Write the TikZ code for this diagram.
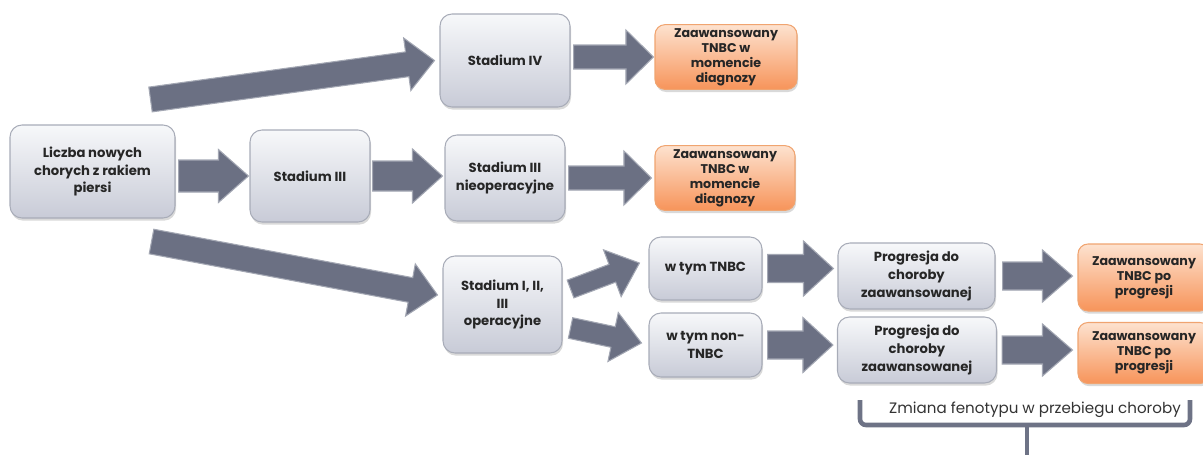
\documentclass[tikz,border=0pt]{standalone}
\usepackage{fontspec}
\setmainfont{Poppins}
\usetikzlibrary{calc,shadows}
\definecolor{arrowgray}{HTML}{6B7083}
\definecolor{arrowedge}{HTML}{A3A7B3}
\definecolor{boxtop}{HTML}{F7F8FA}
\definecolor{boxbottom}{HTML}{C8CBD7}
\definecolor{boxedge}{HTML}{A8ACB8}
\definecolor{orangetop}{HTML}{FDE2CF}
\definecolor{orangebottom}{HTML}{F7945A}
\definecolor{orangeedge}{HTML}{F0A470}
\definecolor{bracegray}{HTML}{6E7386}
\tikzset{
	box/.style={draw=boxedge, line width=0.6pt, rounded corners=0.24cm, top color=boxtop, bottom color=boxbottom, align=center, font=\fontsize{7.5}{10}\selectfont\bfseries, text=black!85, inner sep=2pt, drop shadow={shadow xshift=0.6pt, shadow yshift=-1.5pt, opacity=0.3}},
	orangebox/.style={box, draw=orangeedge, top color=orangetop, bottom color=orangebottom, rounded corners=0.2cm, font=\fontsize{7.2}{8.6}\selectfont\bfseries},
	blockarr/.style={fill=arrowgray, draw=arrowedge, line width=0.6pt, line join=miter},
	bracket/.style={draw=bracegray, line width=2.6pt, rounded corners=0.12cm},
}
% block arrow: tail, tip, half shaft, half head, head length
\newcommand{\blockarrow}[5]{%
	\coordinate (tailpt) at (#1);
	\coordinate (tippt) at (#2);
	\coordinate (headpt) at ($(tippt)!#5!(tailpt)$);
	\draw[blockarr] ($(tailpt)!#3!90:(tippt)$) -- ($(headpt)!#3!90:(tippt)$) -- ($(headpt)!#4!90:(tippt)$) -- (tippt) -- ($(headpt)!#4!-90:(tippt)$) -- ($(headpt)!#3!-90:(tippt)$) -- ($(tailpt)!#3!-90:(tippt)$) -- cycle;
}
\begin{document}
\begin{tikzpicture}
	\useasboundingbox (0,0) rectangle (24.06,-9.08);
	% Define the boxes
	\node[box, minimum width=3.3cm, minimum height=1.86cm] (liczba) at (1.85,-3.43) {Liczba nowych\\chorych z rakiem\\piersi};
	\node[box, minimum width=2.4cm, minimum height=1.84cm] (st3) at (6.2,-3.52) {Stadium III};
	\node[box, minimum width=2.6cm, minimum height=1.86cm] (st4) at (10.1,-1.21) {Stadium IV};
	\node[box, minimum width=2.4cm, minimum height=1.72cm] (nieop) at (10.1,-3.56) {Stadium III\\nieoperacyjne};
	\node[box, minimum width=2.38cm, minimum height=1.94cm] (st123) at (10.05,-6.09) {Stadium I, II,\\III\\operacyjne};
	\node[box, minimum width=2.26cm, minimum height=1.26cm] (tnbc) at (14.11,-5.37) {w tym TNBC};
	\node[box, minimum width=2.26cm, minimum height=1.28cm] (nontnbc) at (14.11,-6.9) {w tym non-\\TNBC};
	\node[box, minimum width=3.14cm, minimum height=1.32cm] (prog1) at (18.33,-5.52) {Progresja do\\choroby\\zaawansowanej};
	\node[box, minimum width=3.18cm, minimum height=1.32cm] (prog2) at (18.34,-7.0) {Progresja do\\choroby\\zaawansowanej};
	\node[orangebox, minimum width=2.84cm, minimum height=1.28cm] (adv1) at (14.52,-1.14) {Zaawansowany\\TNBC w\\momencie\\diagnozy};
	\node[orangebox, minimum width=2.8cm, minimum height=1.28cm] (adv2) at (14.5,-3.56) {Zaawansowany\\TNBC w\\momencie\\diagnozy};
	\node[orangebox, minimum width=2.64cm, minimum height=1.34cm] (adv3) at (22.88,-5.55) {Zaawansowany\\TNBC po\\progresji};
	\node[orangebox, minimum width=2.64cm, minimum height=1.22cm] (adv4) at (22.88,-7.06) {Zaawansowany\\TNBC po\\progresji};
	% Draw the arrows
	\blockarrow{$(liczba.north east)+(-0.5,0.5)$}{$(st4.west)+(-0.1,0)$}{0.25cm}{0.53cm}{0.55cm}
	\blockarrow{$(liczba.east |- st3.west)+(0.06,0)$}{$(st3.west)+(-0.02,0)$}{0.32cm}{0.53cm}{0.6cm}
	\blockarrow{$(liczba.south east)+(-0.48,-0.46)$}{$(st123.west)+(-0.1,0.19)$}{0.25cm}{0.53cm}{0.55cm}
	\blockarrow{$(st3.east)+(0.04,0)$}{$(st3.east -| nieop.west)+(-0.04,0)$}{0.3cm}{0.54cm}{0.6cm}
	\blockarrow{$(st4.east |- adv1.west)+(0.06,0)$}{$(adv1.west)+(-0.02,0)$}{0.24cm}{0.54cm}{0.55cm}
	\blockarrow{$(nieop.east)+(0.06,0)$}{$(nieop.east -| adv2.west)+(-0.06,0)$}{0.24cm}{0.54cm}{0.55cm}
	\blockarrow{$(st123.east)+(0.16,0.31)$}{$(tnbc.west)+(-0.18,0.11)$}{0.19cm}{0.5cm}{0.58cm}
	\blockarrow{$(st123.east)+(0.16,-0.47)$}{$(nontnbc.west)+(-0.14,0.04)$}{0.21cm}{0.5cm}{0.58cm}
	\blockarrow{$(tnbc.east)+(0.1,0)$}{$(tnbc.east -| prog1.west)+(-0.08,0)$}{0.28cm}{0.55cm}{0.6cm}
	\blockarrow{$(nontnbc.east)+(0.1,0)$}{$(nontnbc.east -| prog2.west)+(-0.08,0)$}{0.28cm}{0.55cm}{0.6cm}
	\blockarrow{$(prog1.east)+(0.14,0)$}{$(prog1.east -| adv3.west)+(-0.1,0)$}{0.28cm}{0.52cm}{0.6cm}
	\blockarrow{$(prog2.east)+(0.1,0)$}{$(prog2.east -| adv4.west)+(-0.1,0)$}{0.28cm}{0.52cm}{0.6cm}
	% Add the bracket
	\node[font=\fontsize{8.6}{10}\selectfont, text=black!80] (zmiana) at (20.7,-8.2) {Zmiana fenotypu w przebiegu choroby};
	\draw[bracket] (17.2,-8.0) -- (17.2,-8.5) -- (23.8,-8.5) -- (23.8,-8.0);
	\draw[bracegray, line width=2.6pt] (20.54,-8.5) -- (20.54,-9.2);
\end{tikzpicture}
\end{document}
